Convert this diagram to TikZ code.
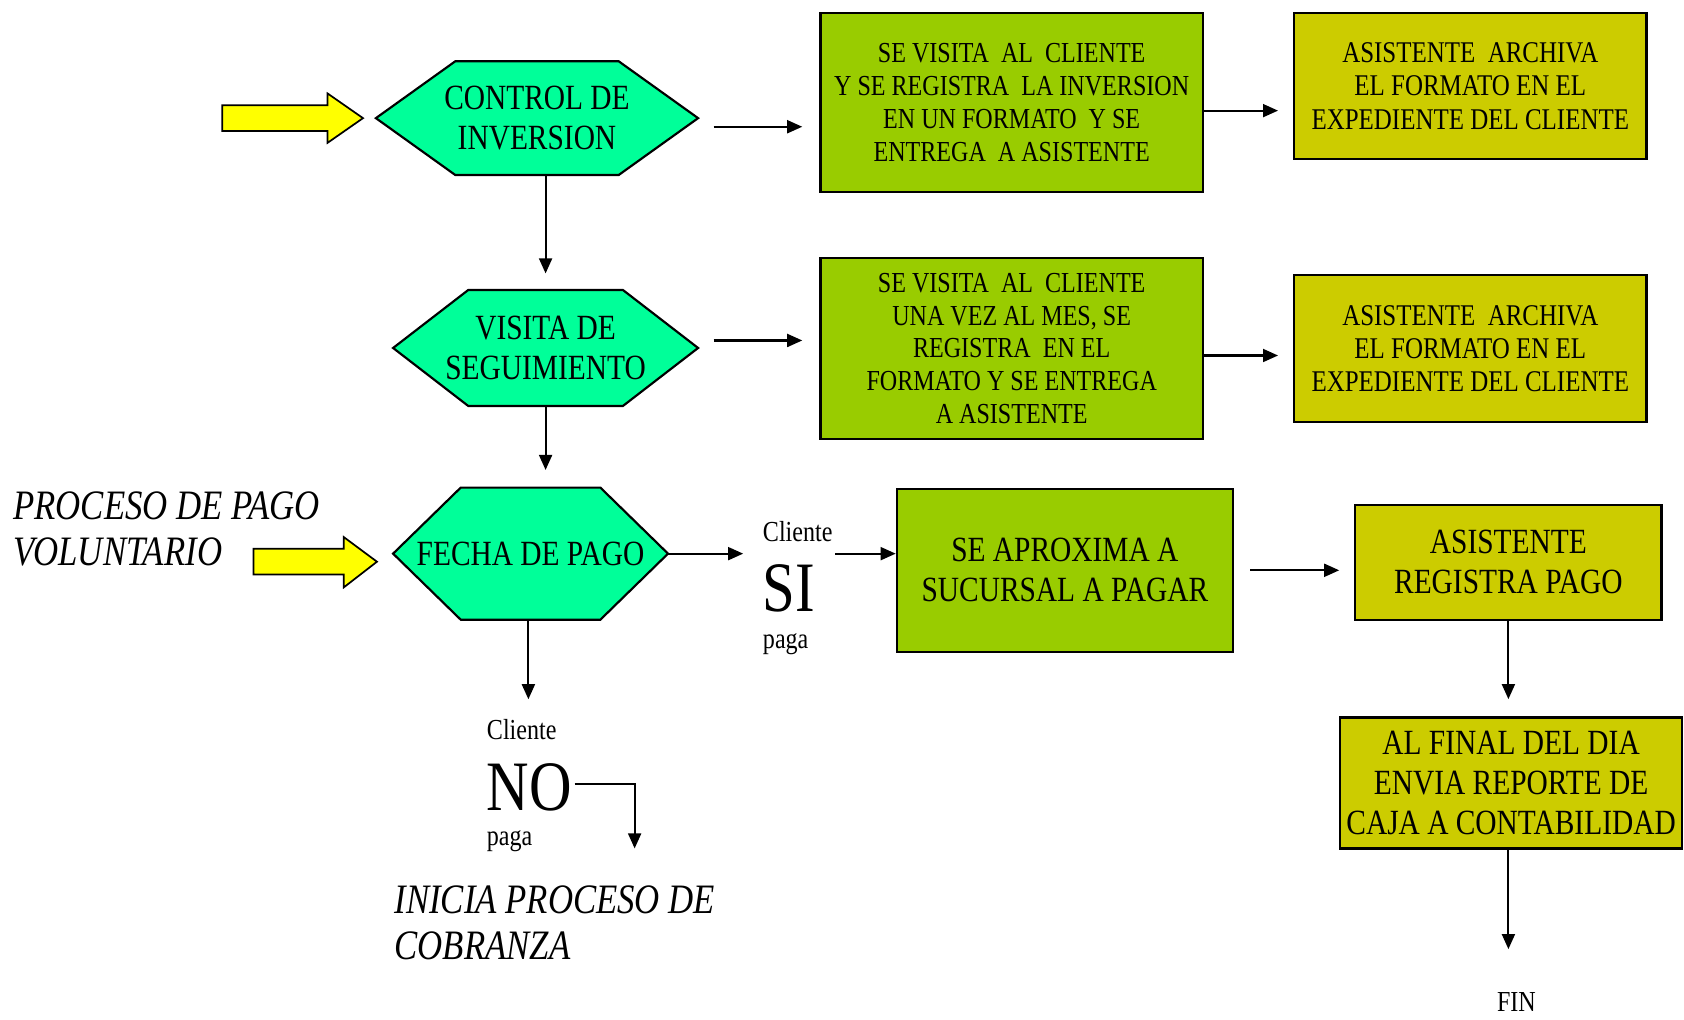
\documentclass[tikz,border=0pt]{standalone}
\usepackage{fontspec}
\setmainfont{Liberation Serif}[FakeStretch=0.83]
\usetikzlibrary{arrows.meta,calc}
\definecolor{hexc}{HTML}{00FF99}
\definecolor{boxg}{HTML}{99CC00}
\definecolor{boxo}{HTML}{CCCC00}
\definecolor{yel}{HTML}{FFFF00}
\newcommand\hexnode[7]{%
  \draw[hexshape] (#2-#4,#3) -- (#2-#4+#6,#3-#5) -- (#2+#4-#6,#3-#5) -- (#2+#4,#3)
    -- (#2+#4-#6,#3+#5) -- (#2-#4+#6,#3+#5) -- cycle;
  \node[hexlabel, minimum width=#4pt, minimum height=#5pt] (#1) at (#2,#3) {#7};}
\begin{document}
\begin{tikzpicture}[x=0.5pt,y=-0.5pt,
  arr/.style={draw=black, line width=1pt, -{Triangle[length=7pt,width=6pt]}},
  greenbox/.style={draw=black, line width=1pt, fill=boxg, align=center, inner sep=0pt},
  olivebox/.style={draw=black, line width=1pt, fill=boxo, align=center, inner sep=0pt},
  hexlabel/.style={align=center, inner sep=0pt, font=\fontsize{16.5}{18.5}\selectfont},
  hexshape/.style={draw=black, line width=1pt, fill=hexc},
  blockarrow/.style={draw=black, line width=0.8pt, fill=yel},
  lbl/.style={inner sep=0pt, anchor=west},
  small/.style={font=\fontsize{13.5}{15}\selectfont},
  big/.style={font=\fontsize{33}{35}\selectfont},
  ital/.style={align=left, font=\itshape\fontsize{19.5}{21.5}\selectfont}]
\fill[white] (0,0) rectangle (1568,949);
\useasboundingbox (0,0) rectangle (1568,949);

% yellow block arrows
\draw[blockarrow] (207,98) -- (305,98) -- (305,87) -- (338,110) -- (305,133) -- (305,122) -- (207,122) -- cycle;
\draw[blockarrow] (236,511) -- (320,511) -- (320,500) -- (351,523) -- (320,547) -- (320,535) -- (236,535) -- cycle;

% hexagons
\hexnode{h1}{500}{110}{150}{53}{74}{CONTROL DE\\INVERSION}
\hexnode{h2}{508}{324}{142}{54}{70}{VISITA DE\\SEGUIMIENTO}
\hexnode{h3}{494}{515.5}{128}{61.5}{63}{FECHA DE PAGO}

% boxes
\node[greenbox, minimum width=178pt, minimum height=83.5pt, font=\fontsize{13.5}{15.5}\selectfont] (b1) at (942,95.5)
  {SE VISITA \ AL \ CLIENTE\\Y SE REGISTRA \ LA INVERSION\\EN UN FORMATO \ Y SE\\ENTREGA \ A ASISTENTE};
\node[olivebox, minimum width=164pt, minimum height=68pt, font=\fontsize{14}{15.5}\selectfont] (b2) at (1369,80)
  {ASISTENTE \ ARCHIVA\\EL FORMATO EN EL\\EXPEDIENTE DEL CLIENTE};
\node[greenbox, minimum width=178pt, minimum height=84.5pt, font=\fontsize{13.5}{15.25}\selectfont] (b3) at (942,324.5)
  {SE VISITA \ AL \ CLIENTE\\UNA VEZ AL MES, SE\\REGISTRA \ EN EL\\FORMATO Y SE ENTREGA\\A ASISTENTE};
\node[olivebox, minimum width=164pt, minimum height=68.5pt, font=\fontsize{14}{15.5}\selectfont] (b4) at (1369,324.5)
  {ASISTENTE \ ARCHIVA\\EL FORMATO EN EL\\EXPEDIENTE DEL CLIENTE};
\node[greenbox, minimum width=156.5pt, minimum height=76pt, font=\fontsize{16.5}{18.5}\selectfont] (b5) at (991.5,531)
  {SE APROXIMA A\\SUCURSAL A PAGAR};
\node[olivebox, minimum width=142.5pt, minimum height=53.5pt, font=\fontsize{16.5}{18.5}\selectfont] (b6) at (1404.5,523.5)
  {ASISTENTE\\REGISTRA PAGO};
\node[olivebox, minimum width=159pt, minimum height=61pt, font=\fontsize{16.5}{18.75}\selectfont] (b7) at (1407,729)
  {AL FINAL DEL DIA\\ENVIA REPORTE DE\\CAJA A CONTABILIDAD};

% free texts
\node[lbl, small] (sicl) at (710,495) {Cliente};
\node[lbl, big] (si) at (710,548) {SI};
\node[lbl, small] (sipa) at (710,600) {paga};
\node[lbl, small] (nocl) at (453,679) {Cliente};
\node[lbl, big] (no) at (453,733) {NO};
\node[lbl, small] (nopa) at (453,783) {paga};
\node[small, inner sep=0pt] (fin) at (1412,933) {FIN};
\node[lbl, ital] (pv) at (12,492.5) {PROCESO DE PAGO\\VOLUNTARIO};
\node[lbl, ital] (ic) at (367,859.5) {INICIA PROCESO DE\\COBRANZA};

% connectors
\draw[arr] ($(h1.east)+(14,8)$) -- ($(b1.west |- h1.east)+(-16,8)$);
\draw[arr] ($(b1.east)+(0,7.5)$) -- ($(b2.west |- b1.east)+(-14,7.5)$);
\draw[arr] ($(h1.south)+(8,0)$) -- ($(h2.north)+(0,-15)$);
\draw[arr] ($(h2.east)+(14,-7)$) -- ($(b3.west |- h2.east)+(-16,-7)$);
\draw[arr] ($(b3.east)+(0,6.5)$) -- ($(b4.west |- b3.east)+(-14,6.5)$);
\draw[arr] (h2.south) -- ($(h2.south |- h3.north)+(0,-16)$);
\draw[arr] (h3.east) -- ($(si.west |- h3.east)+(-18,0)$);
\draw[arr] ($(si.east |- h3.east)+(18,0)$) -- (b5.west |- h3.east);
\draw[arr] ($(b5.east)+(15,0)$) -- ($(b6.west |- b5.east)+(-14,0)$);
\draw[arr] (b6.south) -- ($(b6.south |- b7.north)+(0,-16)$);
\draw[arr] (b7.south -| b6.south) -- ($(b6.south |- fin.north)+(0,-40)$);
\draw[arr] ($(h3.south)+(-2,0)$) -- ($(h3.south |- nocl.north)+(-2,-18)$);
\draw[arr] ($(no.east)+(2,-3)$) -| ($(no.east)+(58,57)$);
\end{tikzpicture}
\end{document}
